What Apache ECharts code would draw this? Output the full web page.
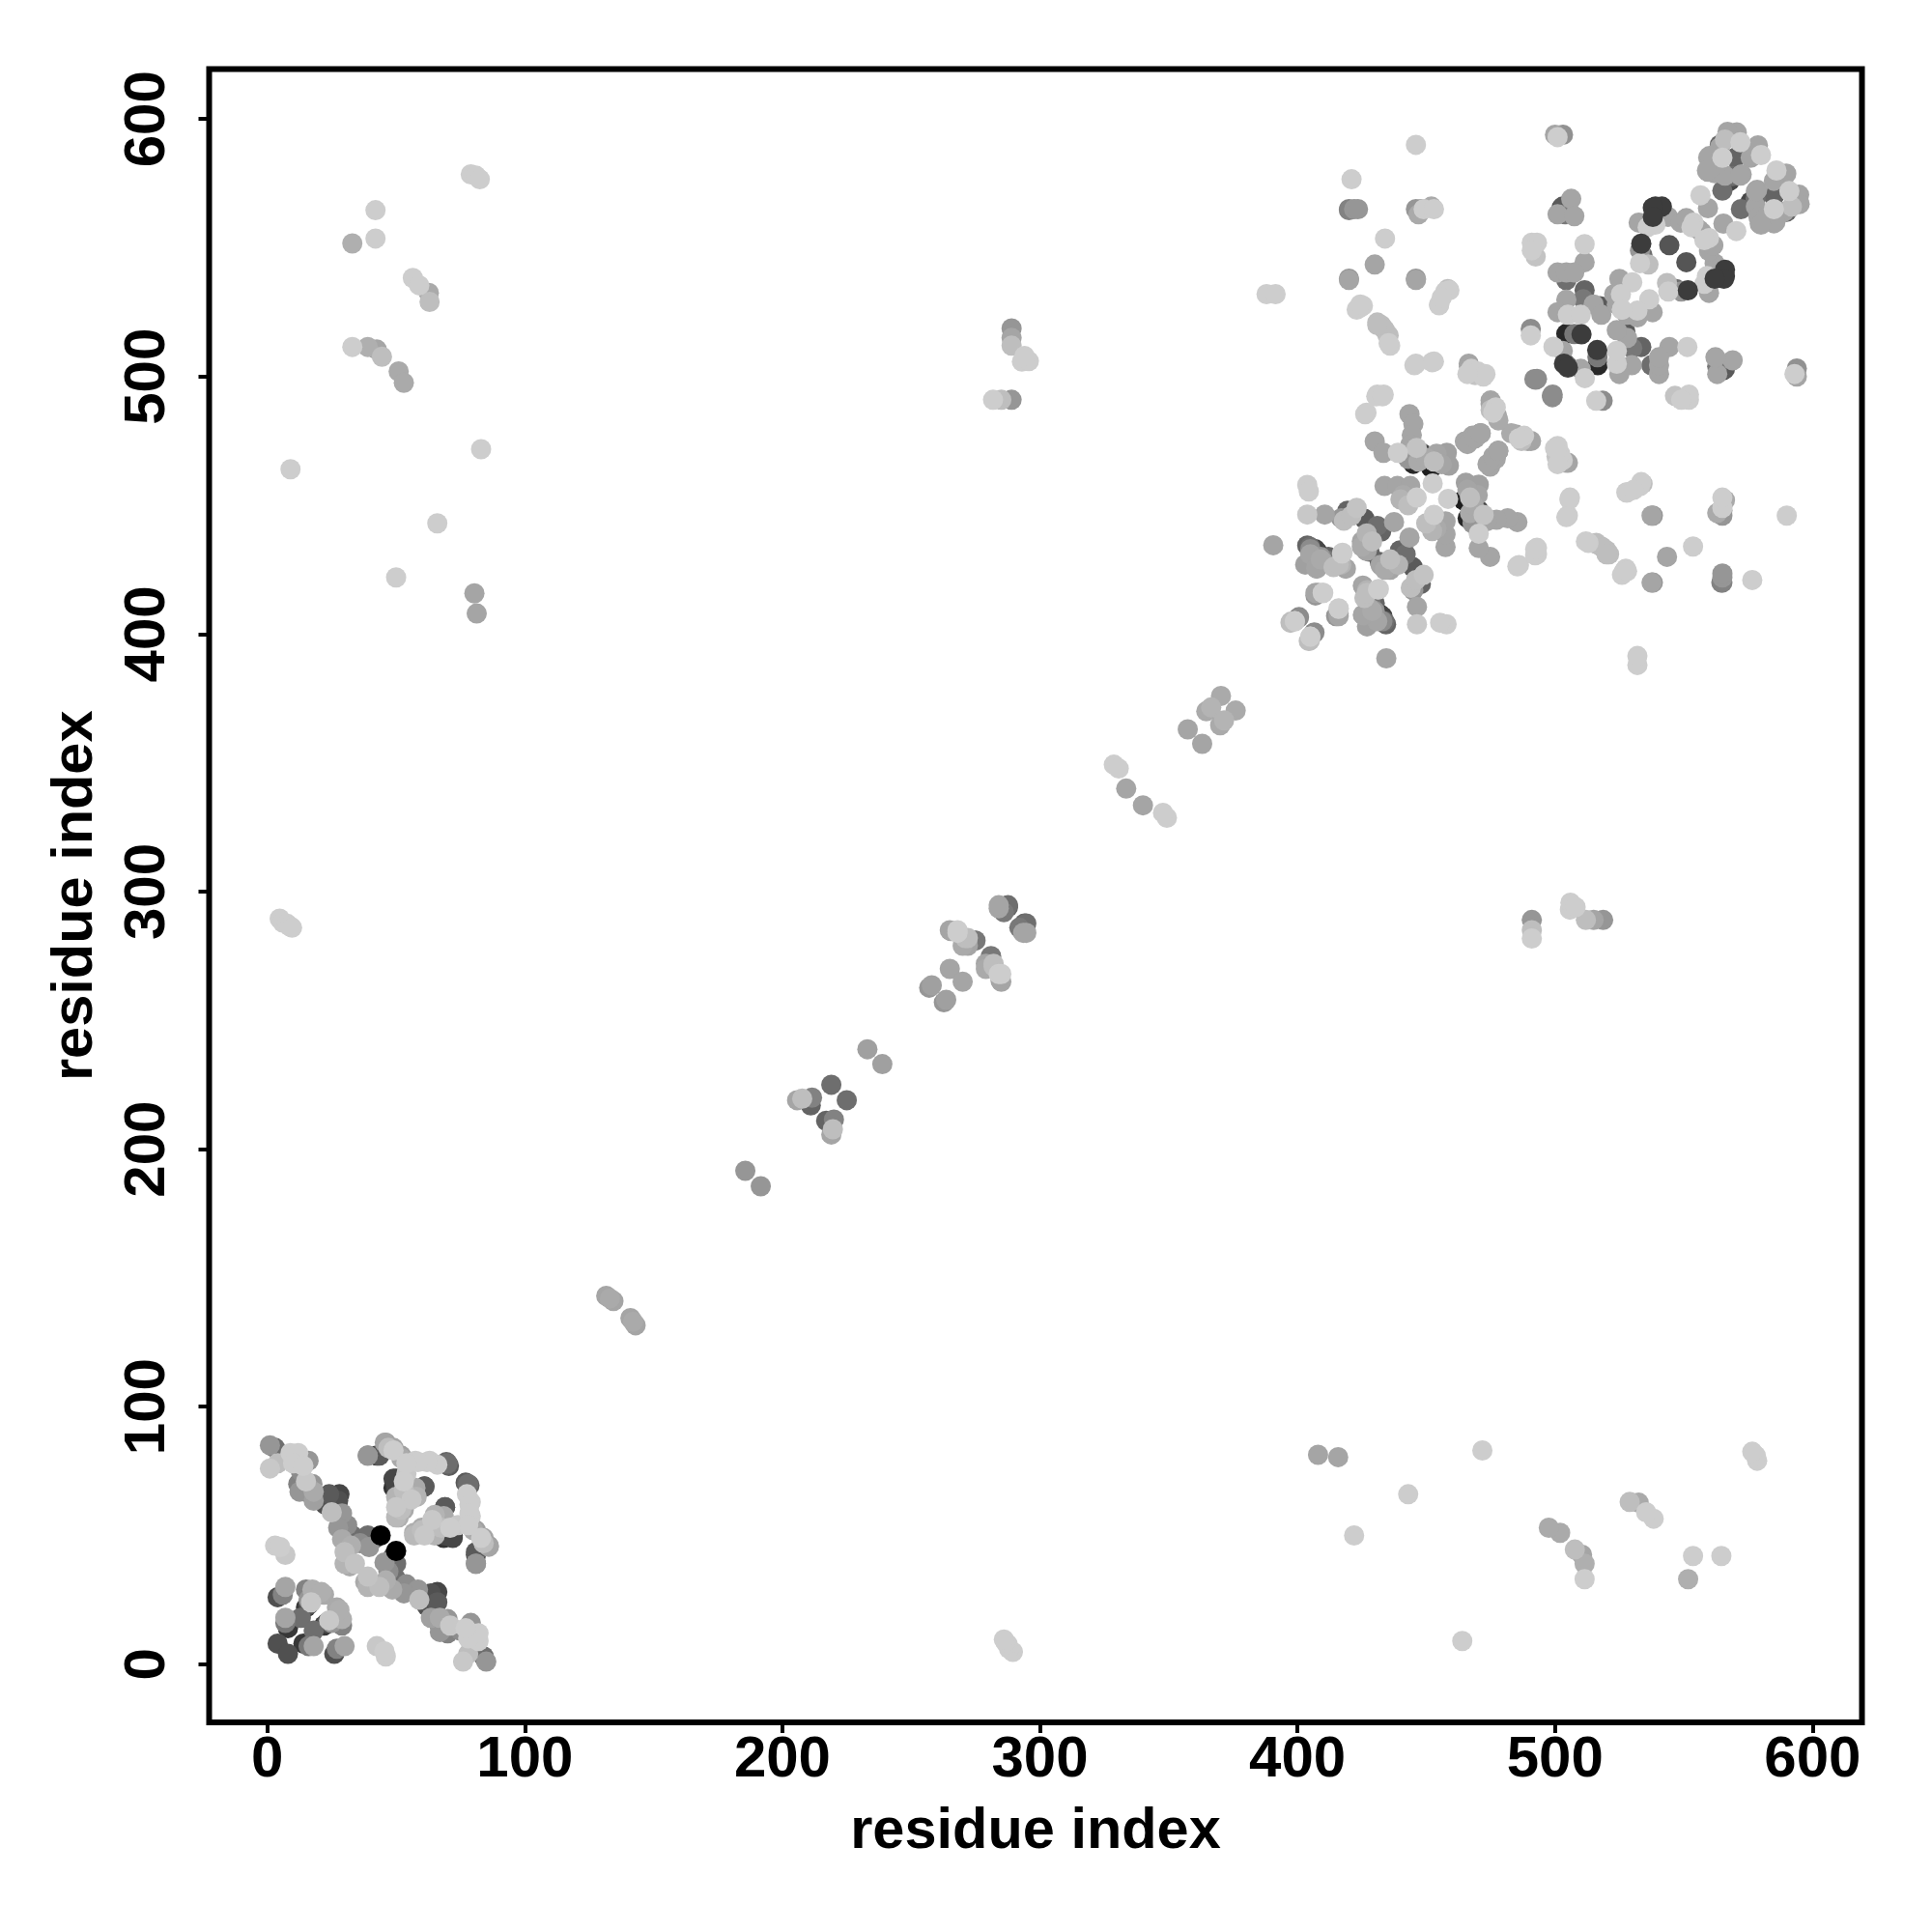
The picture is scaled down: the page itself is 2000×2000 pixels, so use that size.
<!DOCTYPE html>
<html><head><meta charset="utf-8">
<style>html,body{margin:0;padding:0;background:#fff}#c{width:2000px;height:2000px}</style>
<script src="https://cdn.jsdelivr.net/npm/echarts@6/dist/echarts.min.js"></script>
</head><body><div id="c"></div>
<script>
const tickValues = [0,100,200,300,400,500,600];
const axisTitle = "residue index";
// contact pairs, one side of the diagonal: [residue i, residue j, grey level]
// N-terminal domain, arm 1
const armA = [[1,85,150],[3,84,110],[5,81,70],[1,76,200],[4,78,190],[9,82,205],[12,82,205],[10,78,205],[14,77,205],[16,79,150],[13,75,140],[12,70,130],[15,71,200],[17.5,70,150],[12.5,67,150],[15,67,70],[18,67,170],[18,63.5,160],[24,66,90],[28,66,70],[27.5,63.5,80],[22.5,62,80],[25,59,190],[29,58.5,150],[27.5,53,150],[31,54,140],[33,50,110],[29,48.5,170],[32.5,46,175],[30,43.5,190],[30,39,180],[34,39,195],[32,38,170],[36,47,140],[39,50,110],[39.5,45.5,150],[42,49,90],[44,50,0]];
const armB = [[3,46,205],[5,45.5,205],[7,42.5,200],[4,26,80],[6,27,130],[7,30,165],[15,29,130],[17.5,29,175],[21,28,175],[15,22,55],[16,23,80],[16,25,150],[17,24,200],[22,27,170],[7,16,120],[7,18,165],[8,14,55],[13,18,110],[4,8,80]];
const armC = [[39,81,140],[42.5,81,70],[45.6,86,165],[47,84,190],[49,83,205],[52,80,170],[57.5,79,205],[63,79,205],[69.5,78.5,100],[70.5,77,90],[77.5,70,100],[78,70,110],[77.5,66,205],[78.5,62,205],[78.5,58.5,205],[78,54,205],[81,52,160],[84,49,165],[86,46,160],[81,43.5,90],[81,39,150],[74,54,200],[69,50,70],[72,50,70],[69,61,90],[66,57,165],[64,56,200],[60,52,190],[57,51,175],[61,50,200],[67.5,53,190],[71,53,205],[49,72,70],[49,68.5,50],[50,65,180],[53,60,170],[50,57,185],[55,69,70],[57.5,68.5,170],[58,65,180],[61,69,90]];
const farLeft = [[33,551.7,175],[42,564.6,205],[42,553.6,205],[33,511.5,205],[39,511.5,175],[42.5,510.5,165],[44.5,507.7,190],[51,502,170],[53,497.6,170],[56.5,538.3,205],[59,535.4,205],[62.7,532.5,170],[63,529,190],[79,578.5,205],[81,578,205],[82.5,576.6,205],[83,471.8,205],[9,464,205],[66,443,205],[50,422,205],[80.4,415.8,165],[81.3,408,165],[4.8,289.5,205],[6,288,205],[7.7,287.5,205],[8.6,286.6,205],[9.6,286,205]];
const middle = [[131.6,143,165],[133,142,170],[134.4,141,165],[185.6,191.6,150],[205.7,219,165],[207.7,219.6,190],[211.5,220,130],[211,217,100],[219,225,110],[233,238.8,160],[257,262.7,150],[258,263.6,160],[265.5,284.7,165],[265,270,165],[268,284,205],[271,282,190],[272,279,165],[274.6,281,110],[275,281,120],[270,279,170],[272,282,190],[268,285,205],[265,285,165],[285,293,100],[284,293.5,165],[287.6,294,100],[286,292,120],[284,294.7,165],[287.6,294.7,110],[328.7,349.3,205],[330.6,347.8,205],[333.5,340,165],[357.4,363,165],[364.6,370,170],[366.5,371.5,180],[370.3,376,170],[281.8,491,205],[285,491,190],[289,491,150],[289,518.7,150],[289,515,165],[289,512,190],[293,505.8,205],[295.7,506,205],[294,508,205],[388,532,205],[391.5,532,205]];
const upperMid = [[421,576.6,205],[446,590,205],[420,564.6,130],[422,565,150],[423.5,565,150],[446,565,150],[449,565,205],[453,565,205],[447,563,170],[434,553.6,205],[430,543.5,165],[420,537.5,165],[446,537.5,165],[424.4,526.8,205],[425.4,527.5,205],[455,527.7,205],[457.4,533,205],[459,533.5,205],[431,521,190],[432.5,520,190],[434,518,190],[435.4,516,190],[436,512,205],[446,505,205],[453,505.8,205],[466.5,505,165],[467.5,503,205],[470,502,205],[473,501,205],[431,493,205],[433.5,493,205],[426.8,486,205],[435.4,513,205],[435,516,190],[433.5,518.6,190],[431,520,190],[423,526,205],[424.4,528,205],[455,528,205],[456,530.6,205],[458.4,534,190],[446,538,150],[420,538,150],[420,565,130],[448,565,150],[452,566,170]];
const cluster400 = [[390.6,434.5,165],[403.8,457.9,205],[404.4,455.4,205],[403.8,446.4,200],[410.6,446.4,165],[419.4,447.9,100],[417,445,150],[418,444,190],[421,446,190],[423,449,195],[426,444.8,90],[431,442,110],[432.5,439.8,100],[437.5,443.5,165],[426.9,439.1,180],[429,436,190],[430,474.8,165],[433.4,470.4,165],[439,470.4,205],[443.5,485.4,165],[445,481.6,165],[444.4,477.3,165],[443.8,473.5,165],[443,468,150],[445,466.1,40],[446.3,472.3,195],[448.1,470.4,70],[447,467,170],[452,464.5,30],[450,468.4,170],[453,467,190],[454,470,165],[458,470.4,160],[458.8,465.4,160],[456,466,165],[433.8,457.5,165],[438.8,457.5,165],[443.8,457.5,165],[440,452.3,180],[443,450,190],[441,454,170],[446.3,453,205],[452.5,458.5,205],[465,474.8,165],[468,477,165],[471,477.9,110],[471,477.9,165],[475,490.7,165],[477,488,205],[475,487,190],[477.5,484.8,165],[483,478,170],[486,476,205],[489.4,475,165],[473.8,466,165],[476,469,165],[478,471.2,165],[500,472.2,205],[500.6,469,195],[501,466,205],[504,466.6,165],[505.6,452.3,205],[504.4,445.4,205],[426.3,485.4,205],[430.6,492.3,205],[433,492.3,205],[498.8,492.5,140],[492,499,140],[403.8,434.4,100],[405,433,140],[406.9,433,70],[405,431,165],[407.5,425.4,165],[409,429,170],[412,428.5,120],[414,426,190],[417.5,431.6,205],[418.8,425.4,165],[416,427,190],[426.9,432.3,165],[425,434,170],[428,432,100],[432.5,426.6,165],[436,425,165],[407,415,150],[408,416,165],[410,416,205],[416,409.8,205],[416,407,165],[400.6,406.6,140],[397.5,404.8,190],[399,405,200],[406.3,400.4,140],[404.4,397.3,190],[405,399,205],[425.6,418.5,165],[427,417,180],[431.3,417.3,205],[430,412,100],[428,410,165],[431.9,407.8,50],[433.8,404.9,110],[425.6,407.3,165],[430,409,150],[433,406,70],[427,403,160]];
const clusterDiag = [[500,593.9,165],[501,593,205],[503.1,593.9,145],[506.3,569,165],[502.5,565.4,70],[501,563,165],[503,566,90],[504,563,120],[507.5,562.3,165],[491,552,205],[493,552,205],[491,549,205],[492.5,546.6,195],[511.5,551.4,205],[511.5,544.4,165],[501,540.4,165],[504.4,540.4,165],[507.5,540.4,165],[504.4,537.4,110],[511.5,533.5,100],[511,530,120],[504.4,529.8,165],[501,525,165],[505,524,205],[510,524,205],[515,528,165],[517.5,527.3,90],[518,524,165],[490.6,516,205],[490.6,518.5,140],[504.4,516.6,40],[507.5,516.5,120],[510.3,516.4,60],[499.4,511.6,205],[503,510,165],[503.5,505,60],[505,504,110],[493,499.1,140],[525,537.9,165],[530,536.6,205],[525.6,532,205],[523,532,165],[526,526,205],[524,528,165],[533.5,551.6,60],[533,549,150],[536.3,543.5,190],[533,544,205],[534,547,110],[544.4,551,85],[539,566,60],[541.5,566,60],[543.9,562,165],[532.5,559.8,165],[536,558,205],[539,559,205],[548.8,559.8,165],[553.8,559.8,205],[551,561.5,165],[556.5,570.4,205],[559.4,565.4,165],[550.9,561.3,165],[553,558,205],[556,557,165],[538,565.6,60],[538,562,60],[568.8,593.9,165],[570.6,594.8,165],[566,592,190],[572,591,205],[564,589,165],[561,585.4,140],[559.5,585,165],[565,585,205],[570,585,100],[578.8,589.8,165],[580,586,205],[576,585,165],[559.4,579.5,165],[565,572.2,110],[569,577.9,110],[572.5,578.5,165],[566,578,165],[562,579,165],[562,582,165],[567.9,576,70],[564,590,100],[567,595,165],[560,585.6,165],[559,580,165],[572,578,165]];
// a residue contact map is symmetric, so each pair is plotted on both sides of the diagonal
const pairs = [].concat(armA, armB, armC, farLeft, middle, upperMid, cluster400, clusterDiag);
const points = [];
for (const [i, j, grey] of pairs) { points.push([i, j, grey]); points.push([j, i, grey]); }
// darker contacts go down first so lighter ones overlap them; grey 0 and 60 stay on top
const drawRank = g => (g === 0 || g === 60) ? 300 : g;
points.sort((a, b) => drawRank(a[2]) - drawRank(b[2]));

const font = {fontFamily: '"Liberation Sans"', fontWeight: 'bold', color: '#000'};
const chart = echarts.init(document.getElementById('c'), null, {renderer: 'canvas'});
const axisCommon = {
  type: 'value', scale: false, splitLine: {show: false},
  axisLine: {show: false, onZero: false},
  name: axisTitle, nameLocation: 'center',
  nameTextStyle: {...font, fontSize: 59.5}
};
chart.setOption({
  animation: false, backgroundColor: '#fff',
  grid: {left: 216.5, right: 72.5, top: 71.5, bottom: 217, show: true, borderColor: '#000', borderWidth: 6, backgroundColor: '#fff', outerBoundsMode: 'none', containLabel: false},
  visualMap: {show: false, dimension: 2, min: 0, max: 255, seriesIndex: 0, inRange: {color: ['#000000', '#ffffff']}},
  xAxis: {...axisCommon, min: -22.6, max: 619.2, nameGap: 84,
    axisTick: {show: true, length: 11, lineStyle: {color: '#000', width: 4}, customValues: tickValues},
    axisLabel: {...font, fontSize: 60, margin: 9, customValues: tickValues, hideOverlap: false}},
  yAxis: {...axisCommon, min: -22.6, max: 619.4, nameGap: 108, nameRotate: 90,
    axisTick: {show: true, length: 11, lineStyle: {color: '#000', width: 4}, customValues: tickValues},
    axisLabel: {...font, fontSize: 60, margin: 33, rotate: 90, customValues: tickValues, hideOverlap: false}},
  series: [{type: 'scatter', data: points, symbol: 'circle', symbolSize: 21, large: false, progressive: 0, silent: true, z: 5, itemStyle: {opacity: 1}}]
});
</script></body></html>
